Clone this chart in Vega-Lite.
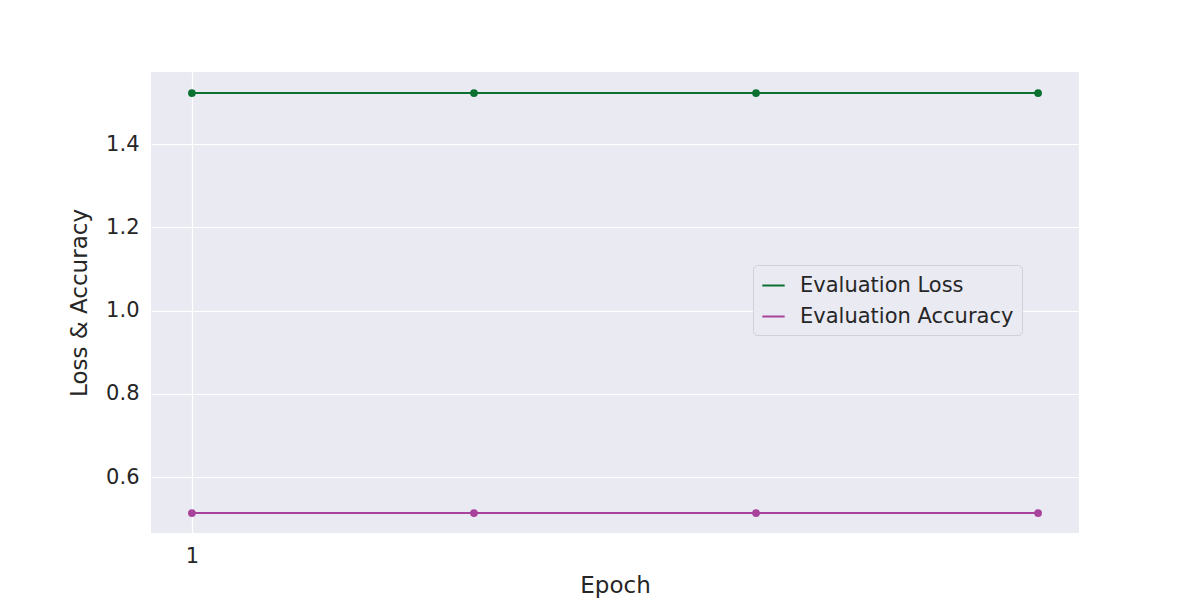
{
"$schema":"https://vega.github.io/schema/vega-lite/v6.json",
"width":928,"height":461,
"autosize":{"type":"none"},
"padding":{"left":151,"top":72,"right":121,"bottom":67},
"background":"white",
"config":{"view":{"fill":"#eaeaf2","stroke":null},"font":"DejaVu Sans"},
"data":{"values":[
{"epoch":1,"value":1.5225,"series":"Evaluation Loss"},
{"epoch":2,"value":1.5225,"series":"Evaluation Loss"},
{"epoch":3,"value":1.5225,"series":"Evaluation Loss"},
{"epoch":4,"value":1.5225,"series":"Evaluation Loss"},
{"epoch":1,"value":0.5135,"series":"Evaluation Accuracy"},
{"epoch":2,"value":0.5135,"series":"Evaluation Accuracy"},
{"epoch":3,"value":0.5135,"series":"Evaluation Accuracy"},
{"epoch":4,"value":0.5135,"series":"Evaluation Accuracy"}
]},
"mark":{"type":"line","point":{"size":60,"filled":true,"opacity":1},"strokeWidth":1.8},
"encoding":{
"x":{"field":"epoch","type":"quantitative","scale":{"domain":[0.855,4.145],"nice":false,"zero":false},
"axis":{"values":[1],"title":"Epoch","titleFontSize":23,"titleFontWeight":"normal","titleColor":"#262626","labelFontSize":21,"labelColor":"#262626","gridColor":"white","gridWidth":1.2,"domain":false,"ticks":false,"labelPadding":12,"titlePadding":8}},
"y":{"field":"value","type":"quantitative","scale":{"domain":[0.4655,1.573],"nice":false,"zero":false},
"axis":{"values":[0.6,0.8,1.0,1.2,1.4],"format":".1f","title":"Loss & Accuracy","titleFontSize":23,"titleFontWeight":"normal","titleColor":"#262626","labelFontSize":21,"labelColor":"#262626","gridColor":"white","gridWidth":1.2,"domain":false,"ticks":false,"labelPadding":12,"titlePadding":14}},
"color":{"field":"series","type":"nominal","scale":{"domain":["Evaluation Loss","Evaluation Accuracy"],"range":["#0b7131","#a8439b"]},
"legend":{"title":null,"orient":"none","legendX":602,"legendY":193,"labelFontSize":21,"labelLimit":400,"labelColor":"#262626","symbolType":"stroke","symbolSize":500,"symbolStrokeWidth":2,"fillColor":"#eaeaf2","strokeColor":"#d0d0d8","padding":8,"cornerRadius":4,"rowPadding":8,"labelOffset":14}}
}
}
